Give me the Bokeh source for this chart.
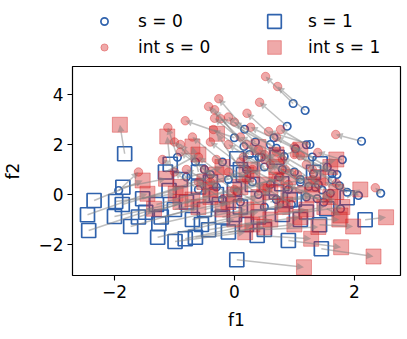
from bokeh.plotting import figure
from bokeh.layouts import column
from bokeh.models import ColumnDataSource, Arrow, NormalHead, FixedTicker, Legend, LegendItem, Range1d
from bokeh.embed import file_html
from bokeh.resources import INLINE

# s = 0 original points (f1, f2) and their intervened counterparts
s0_f1 = [0.98, 1.18, 0.88, 0.17, 0.66, 2.12, 1.80, 1.20, 1.26, 1.02, 0.70, 0.16, 0.41, 0.45, 0.00, 0.83,
         -0.95, 1.32, 1.63, 1.71, 1.63, 1.10, 1.24, 1.35, 1.46, 1.60, 1.88, 2.07, 2.44, 1.38, 1.49, 1.77,
         0.50, 0.20, -0.20, -0.50, 0.80, 1.00, 0.30, 0.60, -0.10, 0.90, 0.40, 1.20, 0.70, -0.30, 0.10, 0.95,
         -0.60, 0.50, -0.80, 1.10, 0.25, -0.40, 0.75, 1.55, 1.40, 0.05, -0.20, 1.30, 0.35, -0.65, 0.60, 1.75, -1.93]
s0_f2 = [3.64, 3.36, 2.73, 2.61, 2.27, 2.13, 1.39, 1.99, 2.00, 1.83, 1.85, 1.92, 1.49, 1.49, 2.27, 1.52,
         1.49, 0.83, 0.83, 0.80, 0.59, 0.49, 0.32, 0.29, 0.19, 0.05, 0.09, -0.04, 0.05, -0.17, -0.31, -0.57,
         1.10, 1.00, 1.30, 1.00, 1.00, 0.90, 0.50, 0.40, 0.60, 0.20, 0.00, -0.10, -0.20, 0.30, -0.30, -0.40,
         0.20, -0.50, 0.70, 0.60, 1.60, 0.80, 0.70, 1.10, 0.40, 0.10, -0.20, 1.50, 2.10, 1.30, 2.00, 0.35, 0.16]
i0_f1 = [0.52, 0.72, 0.42, -0.26, 0.21, 1.69, 1.39, 0.77, 0.57, 0.27, -0.23, -0.33, -0.43, -0.33, -0.82, 0.10,
         -1.11, 0.70, 1.00, 1.10, 1.20, 0.50, 0.60, 0.85, 1.05, 1.30, 1.50, 1.70, 2.35, 0.90, 1.10, 1.55,
         -0.10, -0.40, -0.70, -0.90, 0.20, 0.40, -0.30, 0.10, -0.60, 0.30, -0.10, 0.70, 0.20, -0.80, -0.40, 0.50,
         -1.00, 0.00, -1.20, 0.50, -0.35, -0.90, 0.15, 1.00, 0.80, -0.50, -0.60, 0.70, -0.10, -1.00, 0.00, 1.30, -1.60]
i0_f2 = [4.72, 4.32, 3.69, 3.83, 3.25, 2.40, 1.68, 2.60, 2.52, 2.69, 3.03, 3.39, 3.52, 3.05, 2.95, 2.30,
         2.68, 1.70, 1.60, 1.55, 1.20, 1.40, 1.20, 1.00, 0.80, 0.60, 0.50, 0.45, 0.27, 0.40, 0.20, -0.10,
         2.00, 2.10, 2.30, 2.00, 2.00, 1.80, 1.40, 1.30, 1.50, 1.00, 0.90, 0.70, 0.60, 1.00, 0.50, 0.30,
         0.90, 0.20, 1.40, 1.60, 2.60, 1.70, 1.50, 1.90, 1.40, 1.00, 0.50, 2.30, 3.10, 2.10, 2.90, 1.00, 0.90]

# s = 1 original points and their intervened counterparts
s1_f1 = [-1.83, -1.07, 0.04, 2.18, 1.45, 1.42, 0.90, 0.38, 1.54, -2.34, -2.45, -2.43, -1.86, -1.98, -1.87, -2.00,
         -1.73, -1.53, -1.48, -1.28, -1.26, -0.99, -1.22, -1.09, -0.43, -0.65, -0.82, 1.88, -0.50, -0.20, 0.10, 0.40,
         -0.80, -0.30, 0.20, 0.60, -1.00, 0.00, -0.60, 0.80, -0.10, 0.50, -0.40, 0.30, 1.00, -0.70, 1.20, -0.25,
         0.70, -1.30, -0.90, 0.15, 1.10, -1.60, -0.55, 0.00, -1.15, 0.71, 0.04, 0.27, 1.43, 1.32, 0.79, 0.93, -0.60, 0.10]
s1_f2 = [1.63, 1.21, -2.61, -1.01, -2.17, -1.21, -1.84, -1.64, -0.57, -0.24, -0.81, -1.44, 0.29, -0.28, -0.40, -0.88,
         -1.28, -0.17, -0.71, -1.71, -1.17, -1.88, -0.90, 0.16, -1.41, -1.71, -1.77, -0.13, -0.60, -0.90, -0.50, -0.90,
         -0.30, 0.00, -1.20, -0.30, -0.60, 0.20, 0.30, -0.80, -1.50, -1.40, 0.50, 0.40, -0.20, -1.00, -0.70, -0.40,
         0.10, -0.40, 0.60, 0.80, -1.00, -0.90, -1.20, -0.80, 0.90, 1.49, 1.43, 1.23, 1.23, 0.89, 0.43, -0.21, 0.90, 1.00]
i1_f1 = [-1.91, -1.12, 1.16, 2.53, 2.32, 1.98, 1.78, 1.28, 1.77, -1.53, -1.45, -1.34, -1.14, -0.98, -0.90, -0.90,
         -0.60, -0.50, -0.40, 0.00, -0.20, 0.18, -0.10, -0.30, 0.60, 0.50, 0.30, 2.10, 0.40, 0.80, 0.90, 1.20,
         0.10, 0.50, 1.10, 1.30, 0.00, 0.70, 0.20, 1.50, 1.00, 1.40, 0.30, 0.90, 1.60, 0.20, 1.80, 0.60,
         1.30, -0.40, -0.20, 0.70, 1.75, -0.70, 0.40, 0.85, -0.60, 1.10, 0.40, 0.70, 1.70, 1.60, 1.40, 1.70, -0.70, -0.29]
i1_f2 = [2.79, 2.32, -2.91, -0.91, -2.48, -1.28, -2.11, -1.77, -0.84, 0.56, 0.03, -0.57, 0.63, 0.03, 0.30, -0.30,
         -0.50, 0.50, -0.10, -1.00, -0.60, -1.51, -0.30, 0.80, -1.00, -1.30, -1.20, 0.20, -0.10, -0.50, 0.00, -0.60,
         0.30, 0.40, -0.90, 0.00, 0.00, 0.60, 0.80, -0.50, -1.20, -1.30, 1.00, 0.70, -0.10, -0.60, -0.50, 0.10,
         0.40, 0.20, 1.10, 1.10, -1.00, -0.20, -0.70, -0.40, 1.60, 1.80, 1.90, 1.60, 1.40, 1.10, 0.70, 0.10, 1.92, 2.43]

x_ticks = [-2, 0, 2]
y_ticks = [-2, 0, 2, 4]
legend_labels = ["s = 0", "int s = 0", "s = 1", "int s = 1"]

BLUE = "#2f62ad"
RED = "#d62728"
FONT = "DejaVu Sans"
FS = "17px"

S0 = dict(marker="circle", size=7.5, fill_color=None, line_color=BLUE, line_width=1.7)
S1 = dict(marker="square", size=14, fill_color=None, line_color=BLUE, line_width=1.7)
I0 = dict(marker="circle", size=8.5, fill_color=RED, fill_alpha=0.4, line_color=RED, line_alpha=0.4, line_width=1)
I1 = dict(marker="square", size=15, fill_color=RED, fill_alpha=0.4, line_color=RED, line_alpha=0.4, line_width=1)

src0 = ColumnDataSource(dict(x=s0_f1, y=s0_f2))
src1 = ColumnDataSource(dict(x=s1_f1, y=s1_f2))
isrc0 = ColumnDataSource(dict(x=i0_f1, y=i0_f2))
isrc1 = ColumnDataSource(dict(x=i1_f1, y=i1_f2))

# ---------------- main plot ----------------
p = figure(width=405, height=271, output_backend="svg", toolbar_location=None,
           x_range=Range1d(-2.7, 2.77), y_range=Range1d(-3.24, 5.12),
           min_border_left=72, min_border_right=5, min_border_bottom=62, min_border_top=0)
p.xgrid.visible = False
p.ygrid.visible = False
p.outline_line_color = "black"
p.outline_line_alpha = 1
p.outline_line_width = 1.2
p.background_fill_color = "white"
p.border_fill_color = "white"

for ax, ticks in ((p.xaxis[0], x_ticks), (p.yaxis[0], y_ticks)):
    ax.ticker = FixedTicker(ticks=ticks)
    ax.major_label_overrides = {t: (("\u2212" + str(-t)) if t < 0 else str(t)) for t in ticks}
    ax.minor_tick_line_color = None
    ax.major_tick_in = 0
    ax.major_tick_out = 5
    ax.major_tick_line_width = 1.1
    ax.axis_line_color = None
    ax.major_label_text_font = FONT
    ax.major_label_text_font_size = FS
    ax.major_label_text_color = "black"
    ax.major_label_standoff = 4
    ax.axis_label_text_font = FONT
    ax.axis_label_text_font_size = FS
    ax.axis_label_text_font_style = "normal"
    ax.axis_label_text_color = "black"
p.xaxis.axis_label = "f1"
p.yaxis.axis_label = "f2"
p.yaxis.major_label_orientation = "horizontal"
p.xaxis.axis_label_standoff = 9
p.yaxis.axis_label_standoff = 12

p.scatter("x", "y", source=src0, **S0)
p.scatter("x", "y", source=src1, **S1)

asrc0 = ColumnDataSource(dict(x0=s0_f1, y0=s0_f2, x1=i0_f1, y1=i0_f2))
asrc1 = ColumnDataSource(dict(x0=s1_f1, y0=s1_f2, x1=i1_f1, y1=i1_f2))
for a in (asrc0, asrc1):
    arr = Arrow(end=NormalHead(size=7, fill_color="gray", fill_alpha=0.5, line_alpha=0),
                x_start="x0", y_start="y0", x_end="x1", y_end="y1", source=a,
                line_color="gray", line_alpha=0.5, line_width=1.5, level="glyph")
    p.add_layout(arr)

p.scatter("x", "y", source=isrc0, **I0)
p.scatter("x", "y", source=isrc1, **I1)

# ---------------- legend strip above the axes ----------------
# (its glyph renderers share the real data but the view range is far away, so only the legend shows)
lg = figure(width=405, height=66, output_backend="svg", toolbar_location=None,
            x_range=Range1d(100, 101), y_range=Range1d(100, 101),
            min_border_left=72, min_border_right=5, min_border_top=0, min_border_bottom=0)
lg.axis.visible = False
lg.grid.visible = False
lg.outline_line_color = None
lg.background_fill_color = "white"
lg.border_fill_color = "white"
g0 = lg.scatter("x", "y", source=src0, **S0)
gi0 = lg.scatter("x", "y", source=isrc0, **I0)
g1 = lg.scatter("x", "y", source=src1, **S1)
gi1 = lg.scatter("x", "y", source=isrc1, **I1)

common = dict(ncols=1, border_line_alpha=0, background_fill_alpha=0,
              label_text_font=FONT, label_text_font_size=FS, label_text_color="black",
              padding=4, margin=0)
legend_a = Legend(items=[LegendItem(label=legend_labels[0], renderers=[g0]),
                         LegendItem(label=legend_labels[1], renderers=[gi0])],
                  location=(18, 5), glyph_width=20, glyph_height=18, label_standoff=24,
                  spacing=6, **common)
legend_b1 = Legend(items=[LegendItem(label=legend_labels[2], renderers=[g1])],
                   location=(181, 24), glyph_width=34, glyph_height=34, label_standoff=17,
                   spacing=0, **common)
legend_b2 = Legend(items=[LegendItem(label=legend_labels[3], renderers=[gi1])],
                   location=(181, -2), glyph_width=34, glyph_height=34, label_standoff=17,
                   spacing=0, **common)
lg.add_layout(legend_a, "center")
lg.add_layout(legend_b1, "center")
lg.add_layout(legend_b2, "center")

open("out.html", "w").write(file_html(column(lg, p, spacing=0), INLINE))
